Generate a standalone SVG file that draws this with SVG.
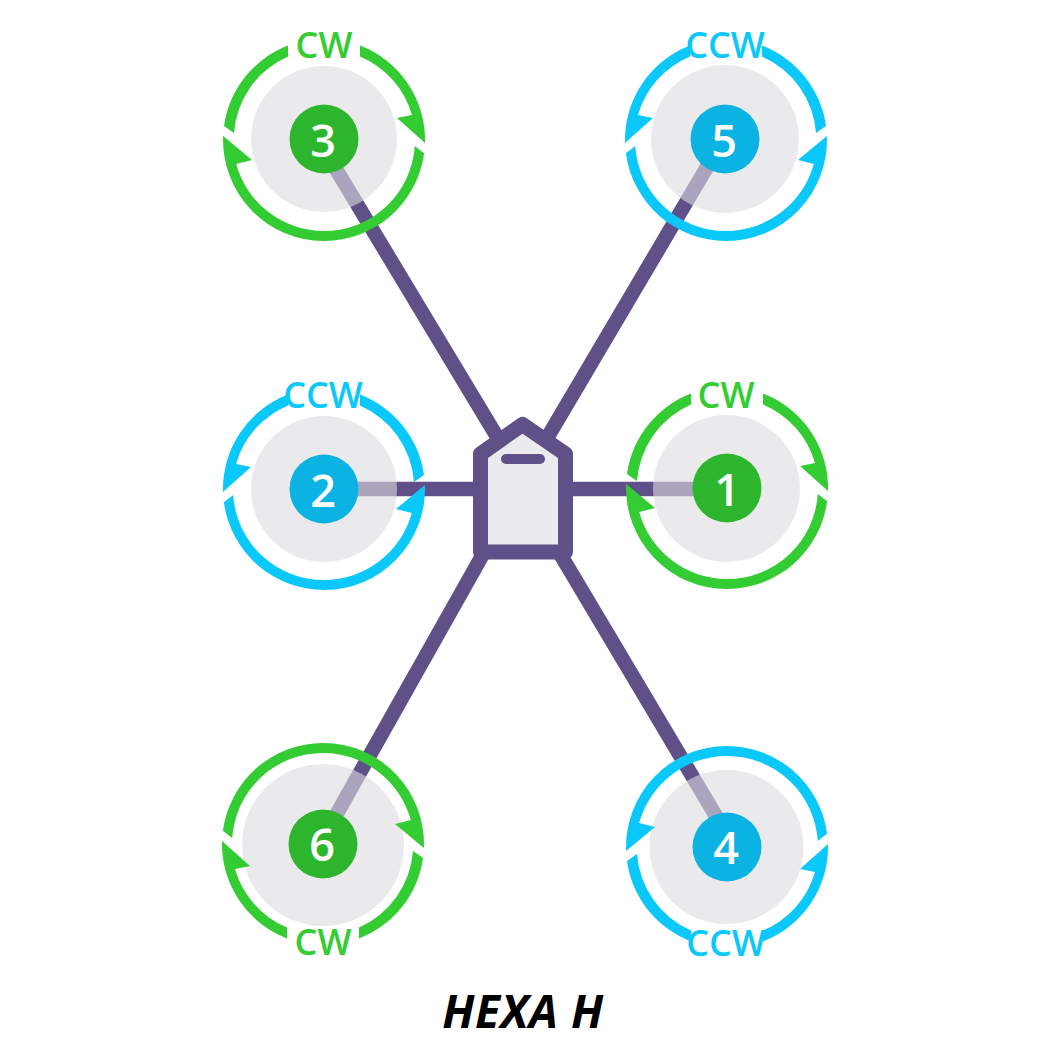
<svg xmlns="http://www.w3.org/2000/svg" xmlns:xlink="http://www.w3.org/1999/xlink" width="1046" height="1047" viewBox="0 0 1046 1047">
<style>
.arm{stroke:#5f5088;stroke-width:14.5;fill:none}
.disc{fill:#dcdce0;fill-opacity:.6}
.g{fill:#33cc33}.b{fill:#0bc8fb}
.gc{fill:#2db52d}.bc{fill:#0bb3e3}
.num{font:600 45px "Open Sans",sans-serif;fill:#fff;text-anchor:middle}
.lab{font:600 36px "Open Sans",sans-serif;text-anchor:middle}
.title{font:italic 700 46px "Open Sans",sans-serif;letter-spacing:.6px;fill:#000;text-anchor:middle}
</style>
<defs>
<g id="ring">
<path d="M36,-94.4A101,101 0 0 1 101,3L73,-22L88,-25A91,91 0 0 0 36,-83.6Z"/>
<path d="M-36,-94.4A101,101 0 0 0 -100,-14L-90,-7A91,91 0 0 1 -36,-83.6Z"/>
<path d="M100.1,13.2A101,101 0 0 1 0,101A101,101 0 0 1 -100.9,-4L-72,20L-87.8,24A91,91 0 0 0 0,91A91,91 0 0 0 90.8,6Z"/>
</g>
</defs>
<rect width="1046" height="1047" fill="#fff"/>
<g id="connectors">
<path class="arm" d="M330.5,160L505,450"/>
<path class="arm" d="M711.2,160L540,450"/>
<path class="arm" d="M324,489H727"/>
<path class="arm" d="M333.3,820L491,540"/>
<path class="arm" d="M718.4,820L551.8,540"/>
</g>
<g id="node-3">
<circle class="disc" cx="324" cy="139" r="73"/>
<use xlink:href="#ring" href="#ring" class="g" transform="translate(324,140)"/>
<circle class="gc" cx="324" cy="139" r="34.5"/>
<text class="num" x="323" y="157">3</text>
<text class="lab g" x="324" y="58">CW</text>
</g>
<g id="node-5">
<circle class="disc" cx="725" cy="139" r="74"/>
<use xlink:href="#ring" href="#ring" class="b" transform="translate(726,140) scale(-1,1)"/>
<circle class="bc" cx="725" cy="139" r="34.5"/>
<text class="num" x="724" y="157">5</text>
<text class="lab b" x="725" y="58">CCW</text>
</g>
<g id="node-2">
<circle class="disc" cx="324" cy="489" r="73"/>
<use xlink:href="#ring" href="#ring" class="b" transform="translate(324,489) scale(-1,1)"/>
<circle class="bc" cx="324" cy="489" r="34.5"/>
<text class="num" x="323" y="507">2</text>
<text class="lab b" x="323" y="408">CCW</text>
</g>
<g id="node-1">
<circle class="disc" cx="726.5" cy="488.5" r="73.5"/>
<use xlink:href="#ring" href="#ring" class="g" transform="translate(727,488)"/>
<circle class="gc" cx="727" cy="488" r="34.5"/>
<text class="num" x="727" y="506">1</text>
<text class="lab g" x="726" y="408">CW</text>
</g>
<g id="node-6">
<circle class="disc" cx="323" cy="845" r="81"/>
<use xlink:href="#ring" href="#ring" class="g" transform="translate(323,844) rotate(180)"/>
<circle class="gc" cx="323" cy="844" r="34.5"/>
<text class="num" x="322" y="861">6</text>
<text class="lab g" x="323" y="955">CW</text>
</g>
<g id="node-4">
<circle class="disc" cx="726.5" cy="847" r="77"/>
<use xlink:href="#ring" href="#ring" class="b" transform="translate(727,847) scale(-1,1) rotate(180)"/>
<circle class="bc" cx="727" cy="847" r="34.5"/>
<text class="num" x="726" y="864">4</text>
<text class="lab b" x="726" y="956">CCW</text>
</g>
<g id="controller">
<path d="M480.5,454L522.5,424.5L565.5,454V552H480.5Z" fill="#ebebed" stroke="#5f5088" stroke-width="15" stroke-linejoin="round"/>
<path d="M506,459H540" stroke="#5f5088" stroke-width="10" stroke-linecap="round" fill="none"/>
</g>
<text class="title" x="523" y="1028">HEXA H</text>
</svg>
